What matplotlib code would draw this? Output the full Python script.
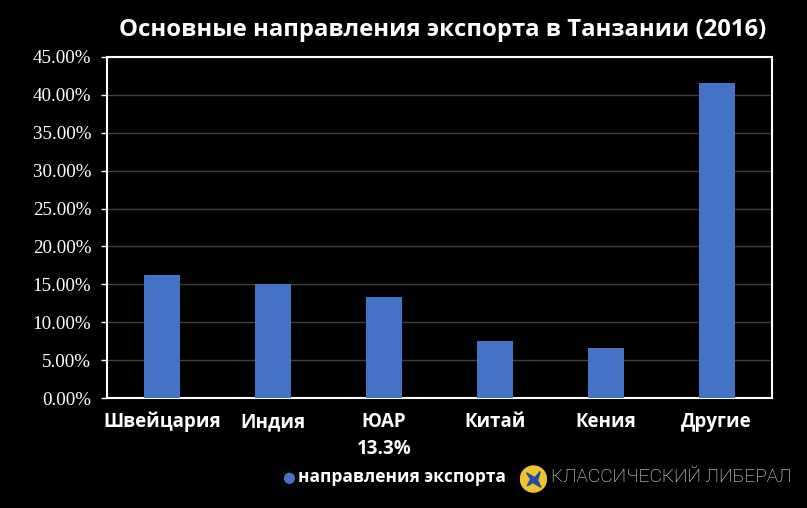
import matplotlib
matplotlib.use("Agg")
import matplotlib.pyplot as plt
import matplotlib.transforms as mtransforms
from matplotlib.patches import Circle, Polygon
from matplotlib.ticker import PercentFormatter, MultipleLocator

# data
countries = ["Швейцария", "Индия", "ЮАР\n13.3%", "Китай", "Кения", "Другие"]
shares = [16.2, 15.0, 13.3, 7.5, 6.6, 41.6]

title = "Основные направления экспорта в Танзании (2016)"
series_name = "направления экспорта"
brand = "КЛАССИЧЕСКИЙ ЛИБЕРАЛ"

bar_color = "#4472C4"

fig = plt.figure(figsize=(8.07, 5.08), dpi=100, facecolor="black")
ax = fig.add_axes([0.1326, 0.2165, 0.824, 0.6713], facecolor="black")

x = list(range(len(countries)))
ax.bar(x, shares, width=0.325, color=bar_color, zorder=3)

ax.set_xlim(-0.5, len(countries) - 0.5)
ax.set_ylim(0, 45)
ax.yaxis.set_major_locator(MultipleLocator(5))
ax.yaxis.set_major_formatter(PercentFormatter(decimals=2))
ax.grid(axis="y", color="#3f3f3f", linewidth=1, zorder=0)

for side in ["left", "right", "top", "bottom"]:
    ax.spines[side].set_color("white")
    ax.spines[side].set_linewidth(1.5)

ax.tick_params(axis="y", colors="white", length=4.3, width=1, direction="out", pad=7)
for lbl in ax.get_yticklabels():
    lbl.set_fontfamily("Liberation Serif")
    lbl.set_fontsize(13.7)
    lbl.set_color("white")

# category labels: each line on a common baseline below the axis
ax.set_xticks(x)
ax.set_xticklabels([])
ax.tick_params(axis="x", length=0)
base = mtransforms.blended_transform_factory(ax.transData, ax.transAxes)
for xi, label in zip(x, countries):
    for k, line in enumerate(label.split("\n")):
        off = mtransforms.ScaledTranslation(0, -(20.9 + 19.4 * k) / 72, fig.dpi_scale_trans)
        ax.text(xi, 0, line, transform=base + off, ha="center", va="baseline",
                color="white", fontfamily="Open Sans", fontweight="bold",
                fontsize=13.5, clip_on=False)

fig.text(0.548, 0.941, title, ha="center", va="center", color="white",
         fontfamily="Open Sans", fontweight="bold", fontsize=17.2)

# legend
fig.text(0.358, 0.061, "●", ha="center", va="center", color=bar_color,
         fontfamily="DejaVu Sans", fontsize=10.5)
fig.text(0.369, 0.061, series_name, ha="left", va="center", color="white",
         fontfamily="Open Sans", fontweight="bold", fontsize=12.5)

# logo
lax = fig.add_axes([0.644, 0.030, 0.034, 0.054])
lax.set_xlim(-1, 1)
lax.set_ylim(-1, 1)
lax.set_aspect("equal")
lax.axis("off")
lax.add_patch(Circle((0, 0), 0.95, color="#f2c230"))
lax.add_patch(Polygon([(-0.5, 0.45), (0.1, 0.1), (0.5, 0.55), (0.3, -0.1),
                       (0.55, -0.6), (-0.05, -0.25), (-0.45, -0.5), (-0.2, 0.0)],
                      closed=True, color="#1f4fa0"))
fig.text(0.683, 0.061, brand, ha="left", va="center", color="white",
         fontfamily="Roboto", fontweight="light", fontsize=13.8)

fig.savefig("out.png", dpi=100, facecolor="black")
